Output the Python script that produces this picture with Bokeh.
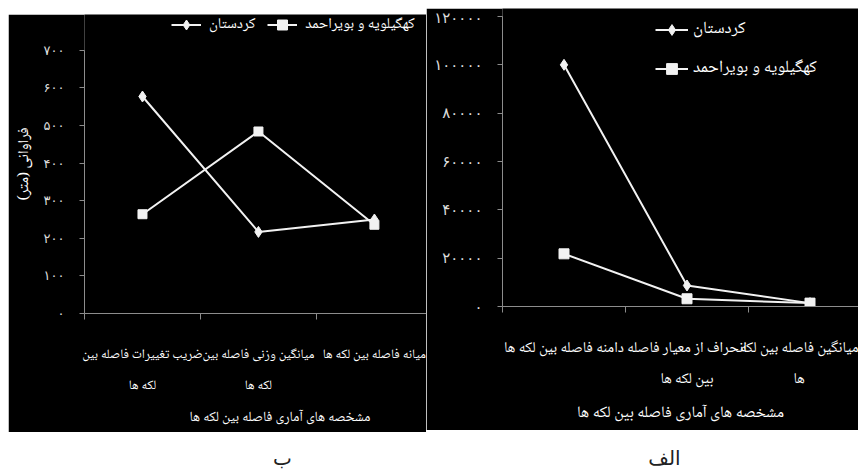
from bokeh.plotting import figure
from bokeh.models import Range1d, FixedTicker, LinearAxis, Legend, LegendItem, Label, Spacer
from bokeh.layouts import row, column
from bokeh.embed import file_html
from bokeh.resources import INLINE

# ---------------- data ----------------
series_names = ["کردستان", "کهگیلویه و بویراحمد"]
x_title = "مشخصه های آماری فاصله بین لکه ها"
y_title_b = "فراوانی (متر)"
panel_labels = ["ب", "الف"]

# panel ب (left)
b_categories = ["ضریب تغییرات فاصله بین\nلکه ها",
                "میانگین وزنی فاصله بین\nلکه ها",
                "میانه فاصله بین لکه ها"]
b_kordestan = [577, 217, 250]
b_kohgiluyeh = [264, 484, 236]
b_yticks = [0, 100, 200, 300, 400, 500, 600, 700]

# panel الف (right)
a_categories = ["دامنه فاصله بین لکه ها",
                "انحراف از معیار فاصله\nبین لکه ها",
                "میانگین فاصله بین لکه\nها"]
a_kordestan = [100000, 8700, 1400]
a_kohgiluyeh = [21800, 3200, 1400]
a_yticks = [0, 20000, 40000, 60000, 80000, 100000, 120000]

FA_DIGITS = "۰۱۲۳۴۵۶۷۸۹"


def fa(n):
    return "".join(FA_DIGITS[int(c)] for c in str(n))


FONT = "DejaVu Sans"
AR_FONT = "Noto Naskh Arabic"
LINE_COL = "#f2f2f2"
AXIS_COL = "#8c8c8c"
TICK_TXT = "#dcdcdc"


def make_panel(categories, kord, kohg, yticks, width, height, frame_left, frame_h,
               cat_px, y_end, y_title, legend_cfg, title_text, cfg,
               kd_size, sq_size):
    n = len(categories)
    frame_w = width - frame_left
    x_end = frame_w / cat_px
    p = figure(width=width, height=height, title=None,
               x_range=Range1d(0, x_end), y_range=Range1d(0, y_end),
               output_backend="svg", toolbar_location=None,
               x_axis_type=None, y_axis_type=None,
               min_border_left=frame_left, min_border_right=0,
               min_border_top=0, min_border_bottom=height - frame_h,
               background_fill_color="black", border_fill_color="black",
               outline_line_color=None)

    centers = [i + 0.5 for i in range(n)]
    bounds = [float(i) for i in range(n + 1)]

    xax = LinearAxis(ticker=FixedTicker(ticks=centers, minor_ticks=bounds),
                     major_label_overrides={c: lab for c, lab in zip(centers, categories)},
                     axis_line_color=AXIS_COL, axis_line_width=1,
                     major_tick_out=0, major_tick_in=0,
                     minor_tick_out=6, minor_tick_in=0,
                     minor_tick_line_color=AXIS_COL,
                     major_label_text_color="white",
                     major_label_text_font=AR_FONT,
                     major_label_text_font_size=cfg["cat_font"],
                     major_label_text_line_height=cfg["cat_lh"],
                     major_label_standoff=cfg["cat_standoff"],
                     major_label_orientation="horizontal",
                     axis_label=title_text,
                     axis_label_text_color="white",
                     axis_label_text_font=AR_FONT,
                     axis_label_text_font_style="normal",
                     axis_label_text_font_size=cfg["title_font"],
                     axis_label_standoff=cfg["title_standoff"])
    p.add_layout(xax, "below")

    yax = LinearAxis(ticker=FixedTicker(ticks=yticks),
                     bounds=(yticks[0], yticks[-1]),
                     major_label_overrides={t: fa(t) for t in yticks},
                     axis_line_color=AXIS_COL, axis_line_width=1,
                     major_tick_out=5, major_tick_in=0,
                     major_tick_line_color=AXIS_COL,
                     minor_tick_out=0, minor_tick_in=0,
                     major_label_text_color=TICK_TXT,
                     major_label_text_font=FONT,
                     major_label_text_font_size=cfg["tick_font"],
                     major_label_standoff=15)
    if y_title:
        yax.axis_label = "\u200f" + y_title + "\u200f"
        yax.axis_label_text_color = "white"
        yax.axis_label_text_font = AR_FONT
        yax.axis_label_text_font_size = "15px"
        yax.axis_label_text_font_style = "normal"
        yax.axis_label_standoff = 3
    p.add_layout(yax, "left")

    r1 = p.line(centers, kord, line_color=LINE_COL, line_width=2)
    m1 = p.scatter(centers, kord, marker="diamond", size=kd_size,
                   fill_color=LINE_COL, line_color=LINE_COL)
    r2 = p.line(centers, kohg, line_color=LINE_COL, line_width=2)
    m2 = p.scatter(centers, kohg, marker="square", size=sq_size,
                   fill_color=LINE_COL, line_color=LINE_COL)

    legend = Legend(items=[LegendItem(label=series_names[0], renderers=[r1, m1]),
                           LegendItem(label=series_names[1], renderers=[r2, m2])],
                    location=legend_cfg["loc"],
                    orientation=legend_cfg["orient"],
                    spacing=legend_cfg["spacing"],
                    glyph_width=legend_cfg["gw"], glyph_height=legend_cfg["gh"],
                    label_standoff=legend_cfg["standoff"],
                    label_text_color="white", label_text_font=AR_FONT,
                    label_text_font_size=legend_cfg["font"],
                    padding=0, margin=0,
                    background_fill_alpha=0, border_line_color=None)
    p.add_layout(legend)
    return p


# left panel ب : frame left 70, frame height 301 (0 -> 700 spans 265 px)
b_frame_h = 301
b_bottom = 117
left = make_panel(b_categories, b_kordestan, b_kohgiluyeh, b_yticks,
                  width=418, height=b_frame_h + b_bottom, frame_left=70, frame_h=b_frame_h,
                  cat_px=118, y_end=700 * b_frame_h / 265.0, y_title=y_title_b,
                  legend_cfg=dict(loc=(87, 275.5), orient="horizontal",
                                  spacing=12, gw=30, gh=25, standoff=8, font="15px"),
                  # leading em/en spaces push the centred title to the right
                  title_text="\u2003\u2003\u2003\u2002" + x_title,
                  cfg=dict(cat_font="13px", cat_lh=1.42, cat_standoff=24,
                           title_font="14px", title_standoff=6, tick_font="13px"),
                  kd_size=11, sq_size=9)

# right panel الف : frame left 76, frame height 298 (0 -> 120000 spans 290 px)
a_frame_h = 298
a_bottom = 124
right = make_panel(a_categories, a_kordestan, a_kohgiluyeh, a_yticks,
                   width=432, height=a_frame_h + a_bottom, frame_left=76, frame_h=a_frame_h,
                   cat_px=123, y_end=120000 * a_frame_h / 290.0, y_title=None,
                   legend_cfg=dict(loc=(153, 223.5), orient="vertical",
                                   spacing=10, gw=33, gh=27, standoff=5, font="17px"),
                   title_text=x_title,
                   cfg=dict(cat_font="15px", cat_lh=1.23, cat_standoff=23,
                            title_font="16px", title_standoff=4, tick_font="15px"),
                   kd_size=11, sq_size=10)

top_h = max(14 + b_frame_h + b_bottom, 8 + a_frame_h + a_bottom)

# bottom strip with the panel letters
bottom = figure(width=858, height=469 - top_h, title=None,
                x_range=Range1d(0, 858), y_range=Range1d(0, 469 - top_h),
                output_backend="svg", toolbar_location=None,
                x_axis_type=None, y_axis_type=None,
                min_border_left=0, min_border_right=0, min_border_top=0, min_border_bottom=0,
                outline_line_color=None, background_fill_color="white",
                border_fill_color="white")
for lab, cx in zip(panel_labels, [282, 664]):
    bottom.add_layout(Label(x=cx, y=12, x_units="screen", y_units="screen", text=lab,
                            text_align="center", text_baseline="middle",
                            text_color="#222222", text_font=FONT, text_font_size="20px"))

top_row = row(Spacer(width=8, height=top_h),
              column(Spacer(width=418, height=14), left),
              column(Spacer(width=432, height=8), right))
layout = column(top_row, bottom)

open("out.html", "w").write(file_html(layout, INLINE))
